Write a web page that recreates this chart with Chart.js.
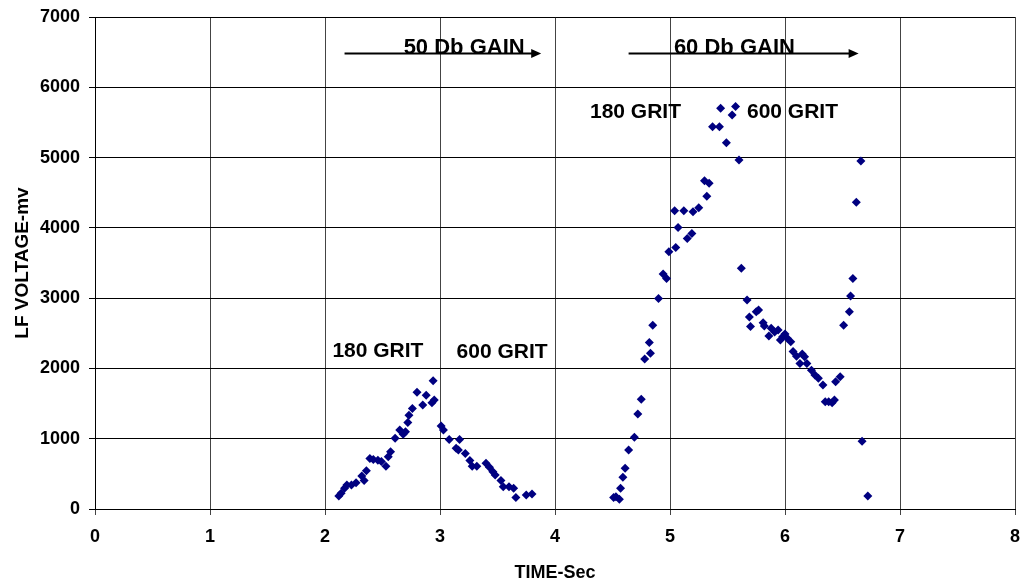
<!DOCTYPE html>
<html>
<head>
<meta charset="utf-8">
<script src="https://cdn.jsdelivr.net/npm/chart.js@4/dist/chart.umd.min.js"></script>
<style>
  html, body { margin: 0; padding: 0; background: #fff; }
  #wrap { width: 1021px; height: 584px; }
</style>
</head>
<body>
<div id="wrap"><canvas id="myChart" width="1021" height="584"></canvas></div>
<script>
// time (sec) and LF voltage (mv)
const timeSec = [
  2.12, 2.14, 2.17, 2.19, 2.23, 2.27, 2.32, 2.34, 2.36, 2.39, 2.42, 2.46, 2.49, 2.53, 2.55, 2.57,
  2.61, 2.65, 2.68, 2.70, 2.72, 2.73, 2.76, 2.80, 2.85, 2.88, 2.93, 2.95, 2.94,
  3.01, 3.03, 3.08, 3.17, 3.14, 3.16, 3.22, 3.26, 3.28, 3.32, 3.40, 3.43, 3.46, 3.48, 3.53, 3.55,
  3.60, 3.64, 3.66, 3.75, 3.80,
  4.51, 4.53, 4.56, 4.57, 4.59, 4.61, 4.64, 4.69, 4.72, 4.75, 4.78, 4.83, 4.82, 4.85, 4.90,
  4.94, 4.97, 4.99, 5.05, 5.04, 5.07, 5.12, 5.15, 5.19, 5.20, 5.25, 5.30, 5.32, 5.34,
  5.37, 5.43, 5.44, 5.49, 5.54, 5.57, 5.60, 5.62,
  5.67, 5.69, 5.70, 5.75, 5.77, 5.81, 5.82, 5.86, 5.88, 5.91, 5.94, 5.96, 5.98, 6.00, 6.02,
  6.05, 6.07, 6.10, 6.13, 6.15, 6.17, 6.19, 6.23, 6.26, 6.29, 6.33, 6.35, 6.38, 6.41, 6.43,
  6.44, 6.48, 6.51, 6.56, 6.57, 6.59, 6.62, 6.66, 6.67, 6.72
];
const voltageMv = [
  185, 225, 295, 340, 340, 375, 470, 405, 545, 720, 705, 695, 675, 610, 745, 815,
  1005, 1125, 1065, 1100, 1230, 1335, 1430, 1660, 1480, 1620, 1510, 1550, 1825,
  1180, 1125, 990, 990, 865, 840, 790, 690, 610, 610, 650, 595, 530, 485, 405, 315,
  315, 295, 165, 200, 215,
  165, 175, 140, 295, 450, 580, 840, 1020, 1350, 1560, 2135, 2215, 2370, 2615, 2995,
  3345, 3280, 3660, 3720, 4245, 4005, 4245, 3850, 3920, 4230, 4285, 4670, 4450, 4635,
  5440, 5440, 5700, 5210, 5605, 5725, 4965, 3425,
  2975, 2730, 2595, 2805, 2830, 2650, 2605, 2460, 2570, 2520, 2545, 2405, 2450, 2490, 2430,
  2380, 2240, 2175, 2070, 2205, 2165, 2070, 1975, 1905, 1860, 1765, 1525, 1525, 1510, 1550,
  1810, 1880, 2615, 2805, 3030, 3280, 4365, 4950, 965, 185
];

const xTicks = [0, 1, 2, 3, 4, 5, 6, 7, 8];
const yTicks = [0, 1000, 2000, 3000, 4000, 5000, 6000, 7000];

// text labels (centre x, baseline y) and gain arrows, in data units
const gritLabels = ['180 GRIT', '600 GRIT', '180 GRIT', '600 GRIT'];
const gritLabelX = [2.46, 3.54, 4.70, 6.065];
const gritLabelY = [2165, 2145, 5560, 5560];
const gainLabels = ['50 Db GAIN', '60 Db GAIN'];
const gainLabelX = [3.21, 5.56];
const gainStart = [2.17, 4.64];
const gainEnd = [3.88, 6.64];
const gainY = 6486;

const points = timeSec.map((t, i) => ({ x: t, y: voltageMv[i] }));

const fontFam = '"Liberation Sans", Arial, sans-serif';

const notes = {
  id: 'notes',
  afterDatasetsDraw(chart) {
    const c = chart.ctx;
    const xs = chart.scales.x, ys = chart.scales.y;
    c.save();
    c.fillStyle = '#000';
    c.strokeStyle = '#000';
    c.textAlign = 'center';
    c.textBaseline = 'alphabetic';
    c.font = 'bold 21px ' + fontFam;
    gritLabels.forEach((txt, i) => {
      c.fillText(txt, xs.getPixelForValue(gritLabelX[i]), ys.getPixelForValue(gritLabelY[i]));
    });
    c.font = 'bold 22px ' + fontFam;
    gainLabels.forEach((txt, i) => {
      const x0 = xs.getPixelForValue(gainStart[i]);
      const x1 = xs.getPixelForValue(gainEnd[i]);
      const y = Math.round(ys.getPixelForValue(gainY)) + 0.5;
      c.fillText(txt, xs.getPixelForValue(gainLabelX[i]), y + 0.5);
      c.lineWidth = 2;
      c.beginPath();
      c.moveTo(x0, y);
      c.lineTo(x1 - 8, y);
      c.stroke();
      c.beginPath();
      c.moveTo(x1, y);
      c.lineTo(x1 - 10, y - 4.5);
      c.lineTo(x1 - 10, y + 4.5);
      c.closePath();
      c.fill();
    });
    c.restore();
  }
};

const ctx = document.getElementById('myChart').getContext('2d');
new Chart(ctx, {
  type: 'scatter',
  data: {
    datasets: [{
      data: points,
      pointStyle: 'rectRot',
      pointRadius: 4.5,
      backgroundColor: '#000080',
      borderColor: '#000080',
      borderWidth: 0
    }]
  },
  options: {
    responsive: false,
    animation: false,
    layout: { padding: { top: 17, right: 6, left: 0, bottom: 0 } },
    plugins: { legend: { display: false }, tooltip: { enabled: false } },
    scales: {
      x: {
        type: 'linear',
        min: 0, max: 8,
        afterBuildTicks: s => { s.ticks = xTicks.map(v => ({ value: v })); },
        afterFit: s => { s.height = 75; s.paddingLeft = 0; s.paddingRight = 0; },
        grid: { color: '#444', lineWidth: 1, tickLength: 6 },
        border: { color: '#000', width: 1 },
        ticks: { color: '#000', font: { family: fontFam, size: 18, weight: 'bold' }, padding: 11 },
        title: { display: true, text: 'TIME-Sec', color: '#000', font: { family: fontFam, size: 18, weight: 'bold' }, padding: { top: 0, bottom: 0 } }
      },
      y: {
        min: 0, max: 7000,
        afterBuildTicks: s => { s.ticks = yTicks.map(v => ({ value: v })); },
        afterFit: s => { s.width = 95; s.paddingTop = 0; s.paddingBottom = 0; },
        grid: { color: '#000', lineWidth: 1, tickLength: 6 },
        border: { color: '#000', width: 1 },
        ticks: { color: '#000', font: { family: fontFam, size: 18, weight: 'bold' }, padding: 9, callback: v => String(v) },
        title: { display: true, text: 'LF VOLTAGE-mv', color: '#000', font: { family: fontFam, size: 19, weight: 'bold' }, padding: { top: 11, bottom: 0 } }
      }
    }
  },
  plugins: [notes]
});
</script>
</body>
</html>
